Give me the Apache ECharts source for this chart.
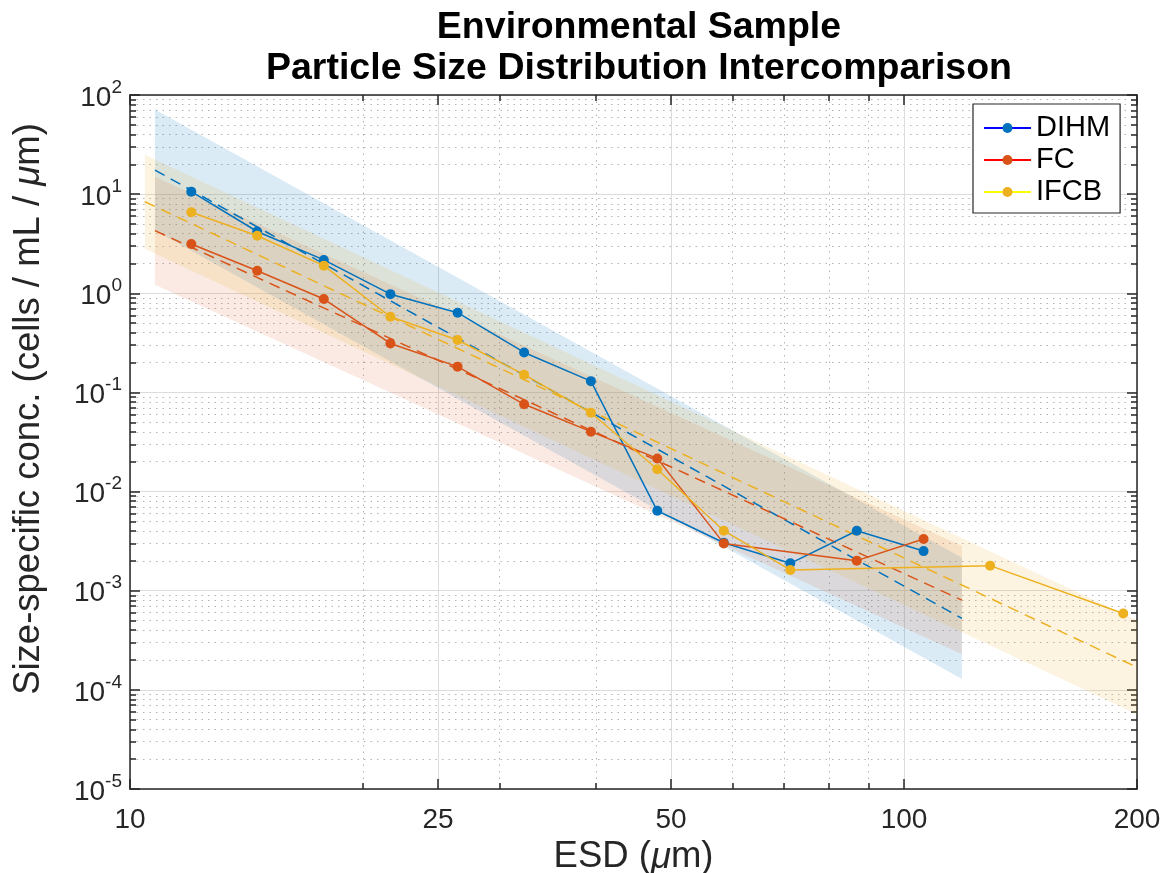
<!DOCTYPE html>
<html>
<head>
<meta charset="utf-8">
<script src="https://cdn.jsdelivr.net/npm/echarts@6/dist/echarts.min.js"></script>
<style>
html,body{margin:0;padding:0;background:#fff;}
#chart{width:1176px;height:873px;}
</style>
</head>
<body>
<div id="chart"></div>
<script>
// ---- data ----
const seriesNames = ['DIHM', 'FC', 'IFCB'];
const dihmX = [12.0, 14.6, 17.8, 21.7, 26.5, 32.3, 39.4, 48.0, 58.5, 71.3, 86.9, 106.0];
const dihmY = [10.6, 4.2, 2.17, 0.98, 0.637, 0.253, 0.130, 0.0064, 0.00305, 0.00189, 0.00403, 0.00251];
const fcX = [12.0, 14.6, 17.8, 21.7, 26.5, 32.3, 39.4, 48.0, 58.5, 86.9, 106.0];
const fcY = [3.14, 1.69, 0.875, 0.312, 0.182, 0.0759, 0.0402, 0.0216, 0.0030, 0.00201, 0.00333];
const ifcbX = [12.0, 14.6, 17.8, 21.7, 26.5, 32.3, 39.4, 48.0, 58.5, 71.3, 129.2, 192.0];
const ifcbY = [6.56, 3.81, 1.90, 0.58, 0.338, 0.151, 0.0624, 0.0168, 0.00403, 0.00162, 0.00179, 0.00059];

// fitted power-law lines: [x, y] end points
const dihmFitX = [10.77, 118.8];
const dihmFitY = [17.5, 0.000527];
const fcFitX = [10.77, 118.8];
const fcFitY = [4.28, 0.000804];
const ifcbFitX = [10.45, 200];
const ifcbFitY = [8.39, 0.000169];

// shaded uncertainty bands: upper / lower values at the two end x's
const dihmBandX = [10.77, 118.8];
const dihmBandUpper = [71.4, 0.00215];
const dihmBandLower = [4.29, 0.000129];
const fcBandX = [10.77, 118.8];
const fcBandUpper = [15.0, 0.00282];
const fcBandLower = [1.22, 0.000229];
const ifcbBandX = [10.45, 200];
const ifcbBandUpper = [25.0, 0.000504];
const ifcbBandLower = [2.82, 0.0000567];

// axis ticks
const xMajorTicks = [10, 25, 50, 100, 200];
const xMinorTicks = [20, 30, 40, 60, 70, 80, 90];
const yMajorTicks = [1e-5, 1e-4, 1e-3, 1e-2, 1e-1, 1, 10, 100];
const yMinorTicks = [];
for (let k = -5; k <= 1; k++) for (let m = 2; m <= 9; m++) yMinorTicks.push(+(m * Math.pow(10, k)).toPrecision(3));

// ---- styling ----
const FONT = '"Liberation Sans", Arial, Helvetica, sans-serif';
const colors = ['#0072BD', '#D95319', '#EDB120'];
const legendLineColors = ['#0000FF', '#FF0000', '#FFFF00'];
const bandColors = ['rgba(0,114,189,0.14)', 'rgba(217,83,25,0.12)', 'rgba(237,177,32,0.14)'];
const AX = '#262626';

const zip = (xs, ys) => xs.map((x, i) => [x, ys[i]]);

function bandSeries(bx, up, lo, fill) {
  return {
    type: 'custom', xAxisIndex: 0, yAxisIndex: 0, z: 1, silent: true, clip: true,
    data: [[bx[0], lo[0]]],
    renderItem: function (params, api) {
      const pts = [
        api.coord([bx[0], up[0]]), api.coord([bx[1], up[1]]),
        api.coord([bx[1], lo[1]]), api.coord([bx[0], lo[0]])
      ];
      return { type: 'polygon', shape: { points: pts }, style: { fill: fill } };
    }
  };
}
function fitSeries(xs, ys, color) {
  return {
    type: 'line', xAxisIndex: 0, yAxisIndex: 0, z: 3, silent: true, symbol: 'none',
    data: zip(xs, ys), lineStyle: { color: color, width: 1.5, type: [11, 7] }
  };
}
function dataSeries(name, xs, ys, color) {
  return {
    name: name, type: 'line', xAxisIndex: 0, yAxisIndex: 0, z: 5,
    data: zip(xs, ys), symbol: 'circle', symbolSize: 10, showSymbol: true,
    itemStyle: { color: color }, lineStyle: { color: color, width: 1.5 }
  };
}

const majorGrid = { show: true, lineStyle: { color: '#dcdcdc', width: 1, type: 'solid' } };
const minorGrid = { show: true, lineStyle: { color: '#b4b4b4', width: 1, type: [1.5, 5] } };

function xAx(pos, tickVals, tickLen, labels, grid, lineShow) {
  return {
    type: 'log', logBase: 10, min: 10, max: 200, position: pos,
    axisLine: { show: lineShow, onZero: false, lineStyle: { color: AX, width: 1.5 } },
    axisTick: { show: true, inside: true, length: tickLen, customValues: tickVals, lineStyle: { color: AX, width: 1.5 } },
    axisLabel: labels ? {
      show: true, customValues: xMajorTicks, margin: 17, color: '#262626',
      fontFamily: FONT, fontSize: 28, formatter: v => String(Math.round(v))
    } : { show: false },
    splitLine: grid || { show: false },
    minorTick: { show: false }, minorSplitLine: { show: false }
  };
}
function yAx(pos, tickVals, tickLen, labels, grid, lineShow) {
  return {
    type: 'log', logBase: 10, min: 1e-5, max: 100, position: pos,
    axisLine: { show: lineShow, onZero: false, lineStyle: { color: AX, width: 1.5 } },
    axisTick: { show: true, inside: true, length: tickLen, customValues: tickVals, lineStyle: { color: AX, width: 1.5 } },
    axisLabel: labels ? {
      show: true, customValues: yMajorTicks, margin: 8, color: '#262626', fontFamily: FONT,
      formatter: v => '{b|10}{s|' + Math.round(Math.log10(v)) + '}',
      rich: {
        b: { fontSize: 28, lineHeight: 34, verticalAlign: 'bottom', fontFamily: FONT, color: '#262626' },
        s: { fontSize: 19, lineHeight: 14, verticalAlign: 'top', fontFamily: FONT, color: '#262626' }
      }
    } : { show: false },
    splitLine: grid || { show: false },
    minorTick: { show: false }, minorSplitLine: { show: false }
  };
}

const xMain = xAx('bottom', xMajorTicks, 10, true, majorGrid, true);
xMain.name = 'ESD ({i|μ}m)';
xMain.nameLocation = 'middle';
xMain.nameGap = 40;
xMain.nameTextStyle = { fontFamily: FONT, fontSize: 36.5, color: '#262626', rich: { i: { fontStyle: 'italic', fontFamily: FONT, fontSize: 36.5, color: '#262626' } } };

const yMain = yAx('left', yMajorTicks, 10, true, majorGrid, true);
yMain.name = 'Size-specific conc. (cells / mL / {i|μ}m)';
yMain.nameLocation = 'middle';
yMain.nameGap = 83;
yMain.nameRotate = 90;
yMain.nameTextStyle = { fontFamily: FONT, fontSize: 36.5, color: '#262626', padding: [0, 0, 0, 66], rich: { i: { fontStyle: 'italic', fontFamily: FONT, fontSize: 36.5, color: '#262626' } } };

const option = {
  animation: false,
  backgroundColor: '#ffffff',
  title: {
    text: 'Environmental Sample\nParticle Size Distribution Intercomparison',
    left: 634, top: 2, textAlign: 'center',
    textStyle: { fontFamily: FONT, fontSize: 37.5, fontWeight: 'bold', color: '#000', lineHeight: 41 }
  },
  grid: { left: 130, right: 39, top: 95, bottom: 84, containLabel: false, outerBoundsMode: 'none' },
  legend: {
    orient: 'vertical', left: 973, top: 104,
    data: seriesNames.map((n, i) => ({ name: n, lineStyle: { color: legendLineColors[i] } })),
    itemWidth: 47, itemHeight: 12.5, itemGap: 0, itemTextGap: 7,
    padding: [8, 10, 5, 10],
    backgroundColor: '#ffffff', borderColor: AX, borderWidth: 1.2, borderRadius: 0,
    textStyle: { fontFamily: FONT, fontSize: 29, color: '#000', lineHeight: 32 }
  },
  xAxis: [
    xMain,
    xAx('top', xMajorTicks, 10, false, null, true),
    xAx('bottom', xMinorTicks, 6, false, minorGrid, false),
    xAx('top', xMinorTicks, 6, false, null, false)
  ],
  yAxis: [
    yMain,
    yAx('right', yMajorTicks, 10, false, null, true),
    yAx('left', yMinorTicks, 6, false, minorGrid, false),
    yAx('right', yMinorTicks, 6, false, null, false)
  ],
  series: [
    bandSeries(dihmBandX, dihmBandUpper, dihmBandLower, bandColors[0]),
    bandSeries(fcBandX, fcBandUpper, fcBandLower, bandColors[1]),
    bandSeries(ifcbBandX, ifcbBandUpper, ifcbBandLower, bandColors[2]),
    fitSeries(dihmFitX, dihmFitY, colors[0]),
    fitSeries(fcFitX, fcFitY, colors[1]),
    fitSeries(ifcbFitX, ifcbFitY, colors[2]),
    dataSeries(seriesNames[0], dihmX, dihmY, colors[0]),
    dataSeries(seriesNames[1], fcX, fcY, colors[1]),
    dataSeries(seriesNames[2], ifcbX, ifcbY, colors[2])
  ]
};

const chart = echarts.init(document.getElementById('chart'), null, { renderer: 'canvas' });
chart.setOption(option);
</script>
</body>
</html>
